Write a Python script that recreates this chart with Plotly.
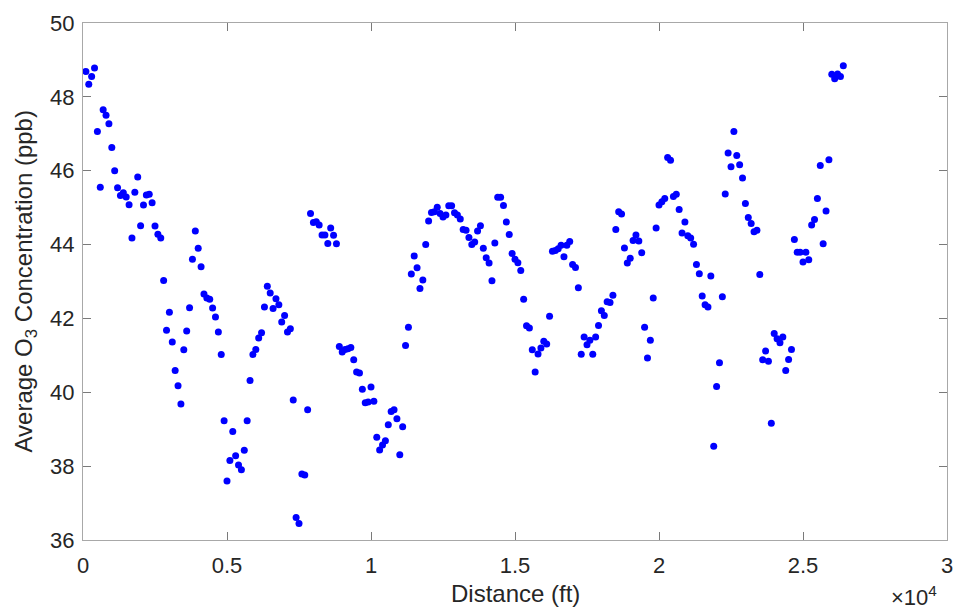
import plotly.graph_objects as go

# Sampling positions along the route (ft)
distance_ft = [
    100, 200, 300, 400, 500, 600, 700, 800, 900, 1000,
    1100, 1200, 1300, 1400, 1500, 1600, 1700, 1800, 1900, 2000,
    2100, 2200, 2300, 2400, 2500, 2600, 2700, 2800, 2900, 3000,
    3100, 3200, 3300, 3400, 3500, 3600, 3700, 3800, 3900, 4000,
    4100, 4200, 4300, 4400, 4500, 4600, 4700, 4800, 4900, 5000,
    5100, 5200, 5300, 5400, 5500, 5600, 5700, 5800, 5900, 6000,
    6100, 6200, 6300, 6400, 6500, 6600, 6700, 6800, 6900, 7000,
    7100, 7200, 7300, 7400, 7500, 7600, 7700, 7800, 7900, 8000,
    8100, 8200, 8300, 8400, 8500, 8600, 8700, 8800, 8900, 9000,
    9100, 9200, 9300, 9400, 9500, 9600, 9700, 9800, 9900, 10000,
    10100, 10200, 10300, 10400, 10500, 10600, 10700, 10800, 10900, 11000,
    11100, 11200, 11300, 11400, 11500, 11600, 11700, 11800, 11900, 12000,
    12100, 12200, 12300, 12400, 12500, 12600, 12700, 12800, 12900, 13000,
    13100, 13200, 13300, 13400, 13500, 13600, 13700, 13800, 13900, 14000,
    14100, 14200, 14300, 14400, 14500, 14600, 14700, 14800, 14900, 15000,
    15100, 15200, 15300, 15400, 15500, 15600, 15700, 15800, 15900, 16000,
    16100, 16200, 16300, 16400, 16500, 16600, 16700, 16800, 16900, 17000,
    17100, 17200, 17300, 17400, 17500, 17600, 17700, 17800, 17900, 18000,
    18100, 18200, 18300, 18400, 18500, 18600, 18700, 18800, 18900, 19000,
    19100, 19200, 19300, 19400, 19500, 19600, 19700, 19800, 19900, 20000,
    20100, 20200, 20300, 20400, 20500, 20600, 20700, 20800, 20900, 21000,
    21100, 21200, 21300, 21400, 21500, 21600, 21700, 21800, 21900, 22000,
    22100, 22200, 22300, 22400, 22500, 22600, 22700, 22800, 22900, 23000,
    23100, 23200, 23300, 23400, 23500, 23600, 23700, 23800, 23900, 24000,
    24100, 24200, 24300, 24400, 24500, 24600, 24700, 24800, 24900, 25000,
    25100, 25200, 25300, 25400, 25500, 25600, 25700, 25800, 25900, 26000,
    26100, 26200, 26300, 26400,
]

# Average ozone concentration at each position (ppb)
avg_o3_ppb = [
    48.69, 48.34, 48.55, 48.78, 47.06, 45.55, 47.65, 47.50, 47.27, 46.63,
    46.00, 45.54, 45.33, 45.40, 45.29, 45.08, 44.18, 45.42, 45.83, 44.51,
    45.07, 45.34, 45.36, 45.13, 44.50, 44.28, 44.18, 43.03, 41.68, 42.17,
    41.36, 40.59, 40.18, 39.68, 41.15, 41.66, 42.29, 43.60, 44.37, 43.90,
    43.40, 42.66, 42.55, 42.52, 42.28, 42.04, 41.63, 41.02, 39.23, 37.60,
    38.15, 38.94, 38.28, 38.03, 37.90, 38.43, 39.23, 40.32, 41.02, 41.16,
    41.47, 41.61, 42.31, 42.87, 42.69, 42.27, 42.53, 42.37, 41.90, 42.08,
    41.63, 41.72, 39.79, 36.61, 36.45, 37.79, 37.76, 39.53, 44.84, 44.60,
    44.62, 44.53, 44.26, 44.26, 44.03, 44.45, 44.25, 44.02, 41.24, 41.09,
    41.16, 41.18, 41.21, 40.88, 40.55, 40.52, 40.08, 39.72, 39.74, 40.14,
    39.76, 38.78, 38.44, 38.57, 38.69, 39.12, 39.48, 39.53, 39.28, 38.31,
    39.07, 41.27, 41.76, 43.20, 43.69, 43.37, 42.81, 43.04, 44.00, 44.64,
    44.87, 44.89, 45.01, 44.84, 44.75, 44.80, 45.05, 45.05, 44.86, 44.80,
    44.69, 44.41, 44.39, 44.19, 44.00, 44.07, 44.37, 44.51, 43.90, 43.64,
    43.50, 43.02, 44.04, 45.28, 45.28, 45.06, 44.61, 44.27, 43.76, 43.60,
    43.51, 43.30, 42.52, 41.80, 41.74, 41.15, 40.55, 41.04, 41.20, 41.38,
    41.31, 42.06, 43.82, 43.84, 43.89, 43.98, 43.67, 43.98, 44.08, 43.46,
    43.38, 42.83, 41.03, 41.50, 41.29, 41.41, 41.03, 41.50, 41.81, 42.21,
    42.08, 42.45, 42.43, 42.63, 44.41, 44.89, 44.83, 43.91, 43.50, 43.63,
    44.11, 44.26, 44.10, 43.78, 41.76, 40.93, 41.41, 42.55, 44.45, 45.07,
    45.16, 45.25, 46.36, 46.28, 45.30, 45.36, 44.95, 44.31, 44.61, 44.24,
    44.18, 44.01, 43.46, 43.21, 42.61, 42.37, 42.31, 43.15, 38.54, 40.16,
    40.80, 42.59, 45.37, 46.48, 46.11, 47.06, 46.41, 46.16, 45.80, 45.11,
    44.73, 44.57, 44.35, 44.39, 43.19, 40.88, 41.12, 40.84, 39.16, 41.59,
    41.45, 41.34, 41.50, 40.59, 40.89, 41.16, 44.14, 43.79, 43.79, 43.53,
    43.79, 43.59, 44.53, 44.68, 45.25, 46.14, 44.02, 44.91, 46.30, 48.61,
    48.49, 48.62, 48.55, 48.84,
]

x_tick_vals = [0, 5000, 10000, 15000, 20000, 25000, 30000]
x_tick_text = ["0", "0.5", "1", "1.5", "2", "2.5", "3"]
y_tick_vals = [36, 38, 40, 42, 44, 46, 48, 50]

FONT = "Liberation Sans, Arial, Helvetica, sans-serif"
TEXT_COLOR = "#262626"
BOX_COLOR = "#a8a8a8"

fig = go.Figure(
    go.Scatter(
        x=distance_ft,
        y=avg_o3_ppb,
        mode="markers",
        marker=dict(color="#0000ff", size=7, line=dict(width=0)),
        showlegend=False,
        hoverinfo="x+y",
    )
)

axis_common = dict(
    showgrid=False,
    zeroline=False,
    showline=True,
    linecolor=BOX_COLOR,
    linewidth=1,
    mirror="allticks",
    ticks="inside",
    ticklen=8,
    tickwidth=1,
    tickcolor="#7a7a7a",
    tickfont=dict(family=FONT, size=22, color=TEXT_COLOR),
)

fig.update_xaxes(
    range=[0, 30000],
    tickmode="array",
    tickvals=x_tick_vals,
    ticktext=x_tick_text,
    ticklabelstandoff=6,
    **axis_common,
)
fig.update_yaxes(
    range=[36, 50],
    tickmode="array",
    tickvals=y_tick_vals,
    ticklabelstandoff=3,
    **axis_common,
)

fig.update_layout(
    width=964,
    height=611,
    margin=dict(l=83, r=11, t=17, b=71),
    plot_bgcolor="white",
    paper_bgcolor="white",
    font=dict(family=FONT, color=TEXT_COLOR),
    annotations=[
        dict(
            text="Distance (ft)",
            xref="paper", yref="paper",
            x=0.5, y=0, yanchor="middle", xanchor="center",
            yshift=-53,
            showarrow=False,
            font=dict(family=FONT, size=24, color=TEXT_COLOR),
        ),
        dict(
            text="Average O<sub>3</sub> Concentration (ppb)",
            xref="paper", yref="paper",
            x=0, y=0.5, xanchor="center", yanchor="middle",
            xshift=-58,
            textangle=-90,
            showarrow=False,
            font=dict(family=FONT, size=24, color=TEXT_COLOR),
        ),
        dict(
            text="\u00d710<sup>4</sup>",
            xref="paper", yref="paper",
            x=1, y=0, xanchor="right", yanchor="middle",
            xshift=-8, yshift=-56,
            showarrow=False,
            font=dict(family=FONT, size=22, color=TEXT_COLOR),
        ),
    ],
)

fig.write_html("out.html")
